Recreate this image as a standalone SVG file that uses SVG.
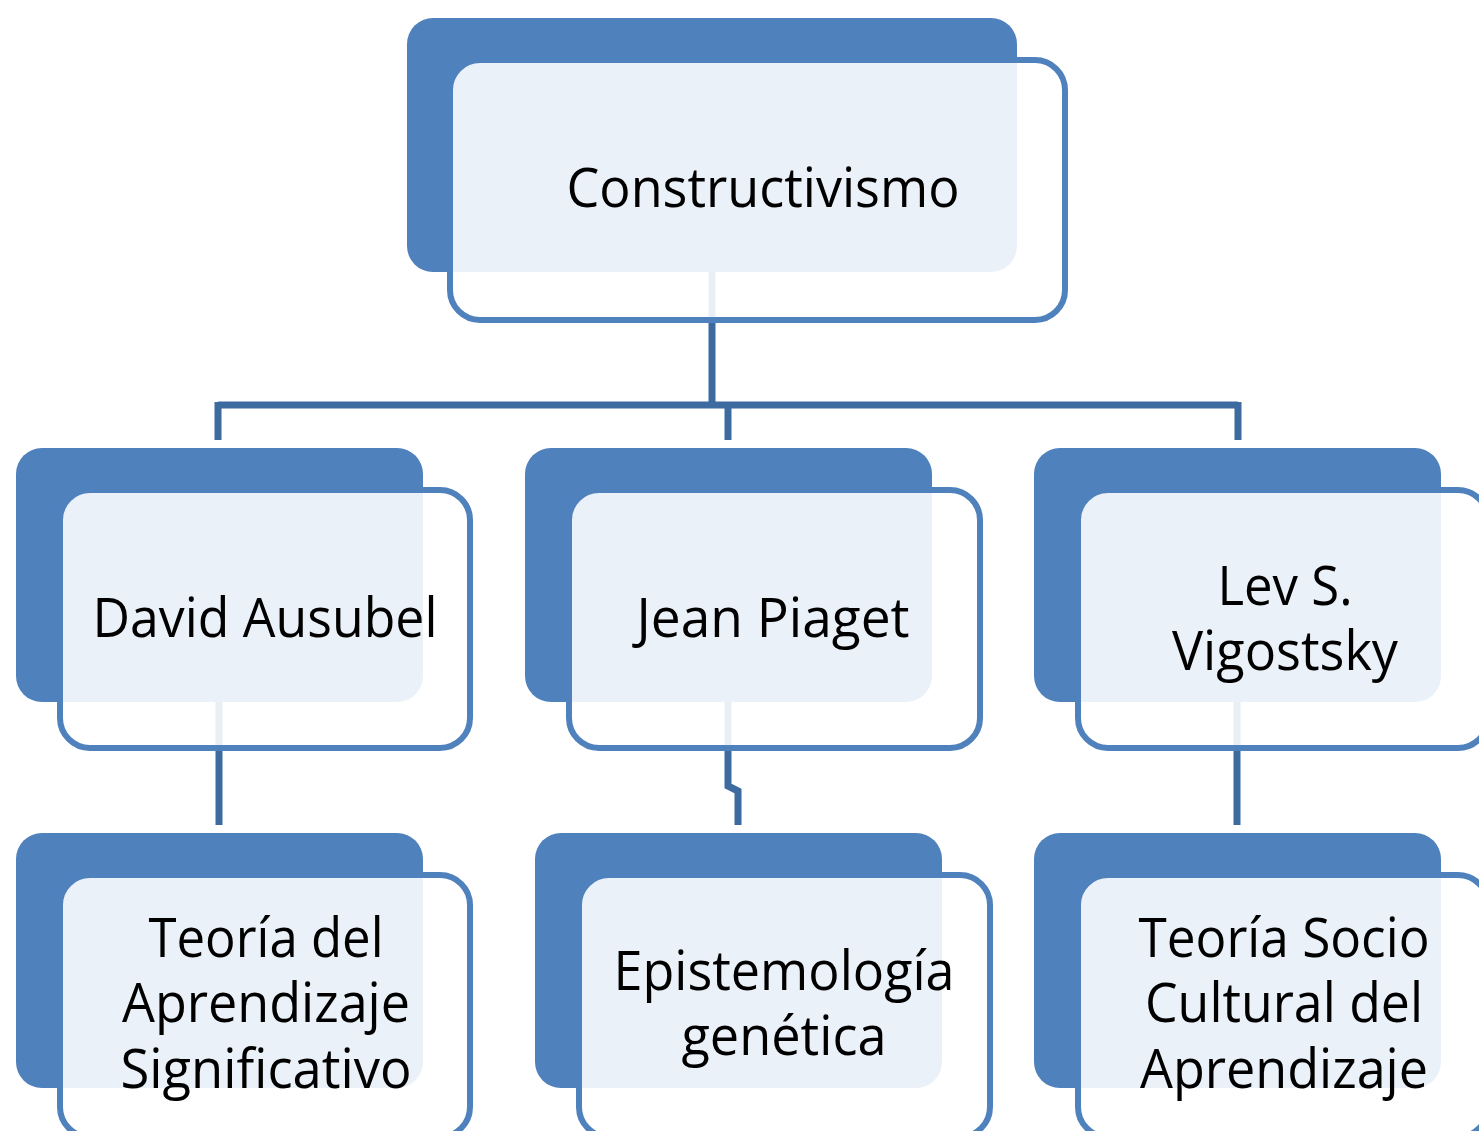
<svg xmlns="http://www.w3.org/2000/svg" width="1479" height="1131" viewBox="0 0 1479 1131">
<style>
.back{fill:#4f81bd}
.front{fill:#ffffff;fill-opacity:0.89;stroke:#4f81bd;stroke-width:6}
.conn{fill:none;stroke:#3d6a9f;stroke-width:7}
.t{font-family:"Open Sans","Noto Sans",sans-serif;font-size:54px;fill:#000;text-anchor:middle}
</style>
<rect width="1479" height="1131" fill="#ffffff"/>
<g id="connectors">
<path class="conn" d="M712,190 V405 M218,405 H1238 M218,402 V440 M728,405 V440 M1238,402 V440"/>
<path class="conn" d="M219,620 V825"/>
<path class="conn" d="M728,620 V786 L738,791 V825"/>
<path class="conn" d="M1237,620 V825"/>
</g>
<g id="n-constructivismo">
<rect class="back" x="407" y="18" width="610" height="254" rx="26"/>
<rect class="front" x="450" y="60" width="615" height="260" rx="30"/>
<text class="t" x="763" y="207" textLength="393" lengthAdjust="spacingAndGlyphs">Constructivismo</text>
</g>
<g id="n-ausubel">
<rect class="back" x="16" y="448" width="407" height="254" rx="26"/>
<rect class="front" x="60" y="490" width="410" height="258" rx="30"/>
<text class="t" x="265" y="637" textLength="345" lengthAdjust="spacingAndGlyphs">David Ausubel</text>
</g>
<g id="n-piaget">
<rect class="back" x="525" y="448" width="407" height="254" rx="26"/>
<rect class="front" x="569" y="490" width="411" height="258" rx="30"/>
<text class="t" x="773" y="637" textLength="273" lengthAdjust="spacingAndGlyphs">Jean Piaget</text>
</g>
<g id="n-vigotsky">
<rect class="back" x="1034" y="448" width="407" height="254" rx="26"/>
<rect class="front" x="1078" y="490" width="410" height="258" rx="30"/>
<text class="t" x="1285" y="605" textLength="135" lengthAdjust="spacingAndGlyphs">Lev S.</text>
<text class="t" x="1285" y="670" textLength="226" lengthAdjust="spacingAndGlyphs">Vigostsky</text>
</g>
<g id="n-aprendizaje-significativo">
<rect class="back" x="16" y="833" width="407" height="255" rx="26"/>
<rect class="front" x="60" y="875" width="410" height="262" rx="30"/>
<text class="t" x="266" y="957" textLength="235" lengthAdjust="spacingAndGlyphs">Teoría del</text>
<text class="t" x="266" y="1022" textLength="288" lengthAdjust="spacingAndGlyphs">Aprendizaje</text>
<text class="t" x="266" y="1088" textLength="291" lengthAdjust="spacingAndGlyphs">Significativo</text>
</g>
<g id="n-epistemologia">
<rect class="back" x="535" y="833" width="407" height="255" rx="26"/>
<rect class="front" x="579" y="875" width="411" height="262" rx="30"/>
<text class="t" x="784" y="990" textLength="341" lengthAdjust="spacingAndGlyphs">Epistemología</text>
<text class="t" x="784" y="1055" textLength="205" lengthAdjust="spacingAndGlyphs">genética</text>
</g>
<g id="n-sociocultural">
<rect class="back" x="1034" y="833" width="407" height="255" rx="26"/>
<rect class="front" x="1078" y="875" width="410" height="262" rx="30"/>
<text class="t" x="1284" y="957" textLength="291" lengthAdjust="spacingAndGlyphs">Teoría Socio</text>
<text class="t" x="1284" y="1022" textLength="278" lengthAdjust="spacingAndGlyphs">Cultural del</text>
<text class="t" x="1284" y="1088" textLength="288" lengthAdjust="spacingAndGlyphs">Aprendizaje</text>
</g>
</svg>
